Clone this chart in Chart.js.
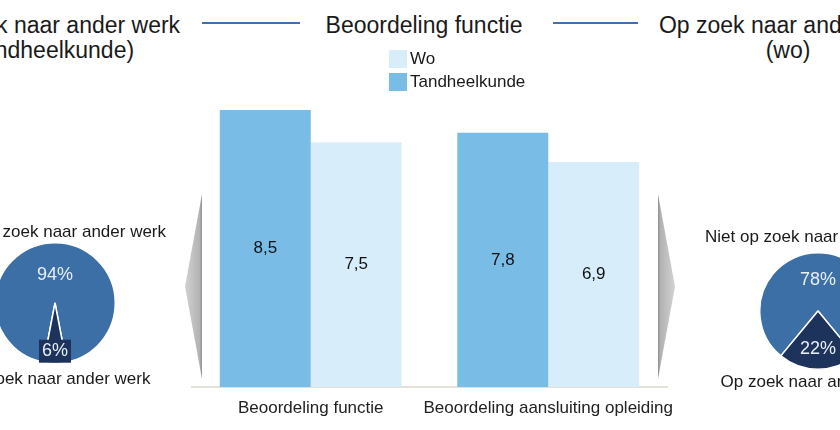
<!DOCTYPE html>
<html>
<head>
<meta charset="utf-8">
<script src="https://cdn.jsdelivr.net/npm/chart.js@4.4.0/dist/chart.umd.min.js"></script>
<style>
  body { margin: 0; background: #fff; font-family: "Liberation Sans", Arial, Helvetica, sans-serif; color: #1a1a1a; }
  #wrap { position: relative; width: 840px; height: 430px; overflow: hidden; background: #fff; }
  canvas { position: absolute; }
  .title { position: absolute; font-size: 23px; line-height: 25px; text-align: center; white-space: nowrap; transform: translateX(-50%); }
  .pielabel { position: absolute; font-size: 17px; white-space: nowrap; transform: translate(-50%, -50%); }
  .line { position: absolute; height: 2px; background: #3d72b0; }
  .arrow { position: absolute; }
  #legend { position: absolute; left: 389px; top: 47px; font-size: 17px; }
  .leg-item { display: flex; align-items: center; height: 23px; }
  .leg-box { width: 18px; height: 18px; margin-right: 3px; }
</style>
</head>
<body>
<div id="wrap">
  <div class="title" style="left:51px; top:13px">Op zoek naar ander werk<br>(tandheelkunde)</div>
  <div class="title" style="left:424px; top:13px">Beoordeling functie</div>
  <div class="title" style="left:788px; top:13px">Op zoek naar ander werk<br>(wo)</div>
  <div class="line" style="left:202px; top:22px; width:98px"></div>
  <div class="line" style="left:553px; top:22px; width:85px"></div>

  <div class="arrow" style="left:185px; top:194px; width:17px; height:185px; clip-path: polygon(100% 0, 0 50%, 100% 100%); background: linear-gradient(to right, #d2d2d2, #b3b3b3 85%, #8f8f8f);"></div>
  <div class="arrow" style="left:658px; top:194px; width:17px; height:185px; clip-path: polygon(0 0, 100% 50%, 0 100%); background: linear-gradient(to left, #d2d2d2, #b3b3b3 85%, #8f8f8f);"></div>

  <canvas id="bars" width="840" height="430" style="left:0; top:0"></canvas>
  <canvas id="pieLeft" width="122" height="122" style="left:-6px; top:242px"></canvas>
  <canvas id="pieRight" width="118" height="118" style="left:759px; top:252px"></canvas>

  <div id="pieLeftTop" class="pielabel" style="left:55px; top:232px"></div>
  <div id="pieLeftBottom" class="pielabel" style="left:55px; top:379px"></div>
  <div id="pieRightTop" class="pielabel" style="left:816px; top:237px"></div>
  <div id="pieRightBottom" class="pielabel" style="left:816px; top:382px"></div>

  <div id="legend"></div>
</div>

<script>
// Data
const categories = ['Beoordeling functie', 'Beoordeling aansluiting opleiding']
const seriesNames = ['Tandheelkunde', 'Wo']
const tandheelkunde = [8.5, 7.8]
const wo = [7.5, 6.9]

const pieLabels = ['Niet op zoek naar ander werk', 'Op zoek naar ander werk']
const pieTandheelkunde = [94, 6]
const pieWo = [78, 22]

const fontFamily = '"Liberation Sans", Arial, Helvetica, sans-serif'
const barColors = ['#79bde6', '#d7eefa']
const pieColors = ['#3c6fa6', '#1e335c']

//Legend (Wo eerst)
const legendEl = document.getElementById('legend')
seriesNames.slice().reverse().forEach((name) => {
    const i = seriesNames.indexOf(name)
    const item = document.createElement('div')
    item.className = 'leg-item'
    const box = document.createElement('span')
    box.className = 'leg-box'
    box.style.background = barColors[i]
    item.appendChild(box)
    item.appendChild(document.createTextNode(name))
    legendEl.appendChild(item)
})

//Waarden in de balken
const barValueLabels = {
    id: 'barValueLabels',
    afterDatasetsDraw(chart) {
        const ctx = chart.ctx
        ctx.save()
        ctx.font = `17px ${fontFamily}`
        ctx.fillStyle = '#111'
        ctx.textAlign = 'center'
        ctx.textBaseline = 'middle'
        chart.data.datasets.forEach((ds, i) => {
            chart.getDatasetMeta(i).data.forEach((bar, j) => {
                const txt = String(ds.data[j]).replace('.', ',')
                ctx.fillText(txt, bar.x, (bar.y + bar.base) / 2)
            })
        })
        ctx.restore()
    }
}

new Chart(document.getElementById('bars'), {
    type: 'bar',
    data: {
        labels: categories,
        datasets: [{
            label: seriesNames[0],
            data: tandheelkunde,
            backgroundColor: barColors[0],
            barPercentage: 1,
            categoryPercentage: 0.766
        }, {
            label: seriesNames[1],
            data: wo,
            backgroundColor: barColors[1],
            barPercentage: 1,
            categoryPercentage: 0.766
        }]
    },
    options: {
        responsive: false,
        animation: false,
        layout: { padding: { left: 192, right: 173, top: 61, bottom: 0 } },
        plugins: {
            legend: { display: false },
            tooltip: { enabled: false }
        },
        scales: {
            x: {
                grid: { display: false, drawTicks: false },
                border: { display: true, color: '#e4e1d9', width: 2 },
                ticks: {
                    color: '#222',
                    font: { size: 17, family: fontFamily },
                    padding: 11,
                    autoSkip: false,
                    maxRotation: 0,
                    minRotation: 0
                },
                afterFit: (scale) => { scale.height = 43 }
            },
            y: { display: false, min: 0, max: 10 }
        }
    },
    plugins: [barValueLabels]
})

//Percentages in de taart
const pieValueLabels = {
    id: 'pieValueLabels',
    afterDatasetsDraw(chart, args, opts) {
        const ctx = chart.ctx
        const meta = chart.getDatasetMeta(0)
        ctx.save()
        ctx.font = `18px ${fontFamily}`
        ctx.textAlign = 'center'
        ctx.textBaseline = 'middle'
        meta.data.forEach((arc, i) => {
            const mid = (arc.startAngle + arc.endAngle) / 2
            const r = arc.outerRadius * opts.radius[i]
            const x = arc.x + Math.cos(mid) * r
            const y = arc.y + Math.sin(mid) * r
            const txt = chart.data.datasets[0].data[i] + '%'
            if (opts.box[i]) {
                const w = ctx.measureText(txt).width + 6
                ctx.fillStyle = pieColors[1]
                ctx.fillRect(x - w / 2, y - 11.5, w, 23)
            }
            ctx.fillStyle = '#e8eff7'
            ctx.fillText(txt, x, y)
        })
        ctx.restore()
    }
}

const makePie = (id, values, radius, box) => {
    //klein deel onderaan gecentreerd
    const total = values[0] + values[1]
    const rotation = 180 - (values[0] / total) * 360 - (values[1] / total) * 180
    new Chart(document.getElementById(id), {
        type: 'pie',
        data: {
            labels: pieLabels,
            datasets: [{
                data: values,
                backgroundColor: pieColors,
                borderColor: '#ffffff',
                borderWidth: 1.5
            }]
        },
        options: {
            responsive: false,
            animation: false,
            rotation: rotation,
            plugins: {
                legend: { display: false },
                tooltip: { enabled: false },
                pieValueLabels: { radius: radius, box: box }
            }
        },
        plugins: [pieValueLabels]
    })
}

makePie('pieLeft', pieTandheelkunde, [0.47, 0.8], [false, true])
makePie('pieRight', pieWo, [0.53, 0.65], [false, false])

document.getElementById('pieLeftTop').textContent = pieLabels[0]
document.getElementById('pieLeftBottom').textContent = pieLabels[1]
document.getElementById('pieRightTop').textContent = pieLabels[0]
document.getElementById('pieRightBottom').textContent = pieLabels[1]
</script>
</body>
</html>
